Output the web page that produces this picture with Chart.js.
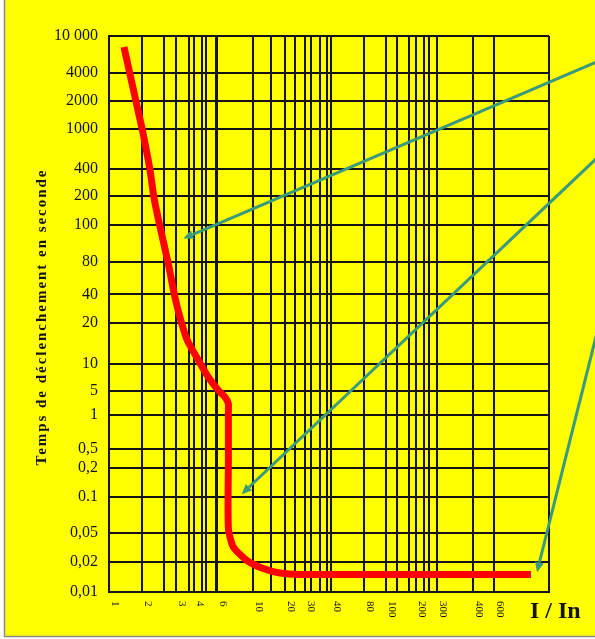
<!DOCTYPE html>
<html>
<head>
<meta charset="utf-8">
<script src="https://cdn.jsdelivr.net/npm/chart.js@4/dist/chart.umd.min.js"></script>
<style>
  html, body { margin: 0; padding: 0; background: #ffffff; }
  canvas { display: block; }
</style>
</head>
<body>
<canvas id="chart" width="595" height="639"></canvas>
<script>
// Tripping curve: current ratio I/In against tripping time (s)
const currentRatio = [1.37, 1.55, 1.81, 2.01, 2.2, 2.3, 2.47, 2.73, 2.95, 3.23, 3.6, 4.34, 5.17, 6.13, 6.74, 7.06, 7.06, 7.06, 7.06, 7.56, 9.12, 12.4, 17.8, 27, 845];
const tripTime = [7600, 3900, 1730, 960, 390, 197, 99, 77, 37.5, 21.2, 14.8, 10.6, 7.13, 5.09, 3.32, 2.12, 1.34, 0.3, 0.0547, 0.0321, 0.0211, 0.0172, 0.0155, 0.015, 0.015];

// Axis graduations
const timeTicks = [0.01, 0.02, 0.05, 0.1, 0.2, 0.5, 1, 5, 10, 20, 40, 80, 100, 200, 400, 1000, 2000, 4000, 10000];
const timeTickLabels = ['0,01', '0,02', '0,05', '0.1', '0,2', '0,5', '1', '5', '10', '20', '40', '80', '100', '200', '400', '1000', '2000', '4000', '10 000'];
const ratioTicks = [1, 2, 3, 4, 6, 10, 20, 30, 40, 80, 100, 200, 300, 400, 600];
const ratioTickLabels = ['1', '2', '3', '4', '6', '10', '20', '30', '40', '80', '100', '200', '300', '400', '600'];
const ratioMinorTicks = [2.6, 3.68, 4.6, 5, 14.6, 24.2, 32, 35.5, 38, 128, 170, 232, 258];
const ratioMax = 1000;

// Callout arrows (tip and tail in axis units)
const arrowTipRatio = [3.37, 8.5, 894];
const arrowTipTime = [92, 0.107, 0.0158];
const arrowTailRatio = [1690, 1690, 1610];
const arrowTailTime = [5720, 614, 21];

// Layout of the graduated paper: relative position of each graduation along its axis
const axisLayout = {
  x: {
    values: ratioTicks.concat([ratioMax]),
    pos: [0, 0.075, 0.153, 0.1925, 0.2448, 0.328, 0.4007, 0.4455, 0.5052, 0.5802, 0.6302, 0.697, 0.7461, 0.828, 0.8757, 1]
  },
  y: {
    values: timeTicks,
    pos: [0, 0.054, 0.1061, 0.1709, 0.223, 0.2567, 0.3191, 0.3615, 0.4108, 0.4845, 0.5354, 0.5935, 0.6608, 0.7117, 0.7603, 0.8335, 0.8826, 0.9342, 1]
  }
};
const gridValues = {
  x: ratioTicks.concat(ratioMinorTicks, [ratioMax]).sort((a, b) => a - b),
  y: timeTicks.slice()
};

// Scale that interpolates logarithmically between irregular graduations
class GraduatedScale extends Chart.Scale {
  determineDataLimits() {
    const v = axisLayout[this.id].values;
    this.min = v[0];
    this.max = v[v.length - 1];
  }
  buildTicks() {
    return gridValues[this.id].map(v => ({ value: v }));
  }
  getLabelForValue(v) { return String(v); }
  _decimal(v) {
    const { values, pos } = axisLayout[this.id];
    const lv = Math.log(v);
    let i = 0;
    while (i < values.length - 2 && lv > Math.log(values[i + 1])) i++;
    const a = Math.log(values[i]), b = Math.log(values[i + 1]);
    return pos[i] + (lv - a) / (b - a) * (pos[i + 1] - pos[i]);
  }
  getPixelForValue(v) { return this.getPixelForDecimal(this._decimal(v)); }
  getValueForPixel(p) {
    const d = this.getDecimalForPixel(p);
    const { values, pos } = axisLayout[this.id];
    let i = 0;
    while (i < pos.length - 2 && d > pos[i + 1]) i++;
    const a = Math.log(values[i]), b = Math.log(values[i + 1]);
    return Math.exp(a + (d - pos[i]) / (pos[i + 1] - pos[i]) * (b - a));
  }
}
GraduatedScale.id = 'graduated';
GraduatedScale.defaults = {};
Chart.register(GraduatedScale);

const INK = '#141414';
const YELLOW = '#ffff00';

const paperPlugin = {
  id: 'paper',
  beforeDraw(chart) {
    const c = chart.ctx;
    c.save();
    c.fillStyle = '#ffffff';
    c.fillRect(0, 0, chart.width, chart.height);
    c.fillStyle = YELLOW;
    c.fillRect(5, 0, chart.width - 5, 636);
    c.strokeStyle = '#8a8a8a';
    c.lineWidth = 1.5;
    c.beginPath();
    c.moveTo(4.5, 0);
    c.lineTo(4.5, 636.5);
    c.lineTo(chart.width, 636.5);
    c.stroke();
    c.restore();
  },
  afterDraw(chart) {
    const c = chart.ctx;
    const xs = chart.scales.x, ys = chart.scales.y;
    c.save();
    c.fillStyle = INK;

    // time graduations
    c.font = '16px "Liberation Serif"';
    c.textAlign = 'right';
    c.textBaseline = 'middle';
    timeTicks.forEach((v, i) => {
      c.fillText(timeTickLabels[i], 98, ys.getPixelForValue(v));
    });

    // current ratio graduations, written top to bottom
    c.font = '11px "Liberation Serif"';
    c.textAlign = 'left';
    c.textBaseline = 'middle';
    ratioTicks.forEach((v, i) => {
      c.save();
      c.translate(xs.getPixelForValue(v) + 6, 601);
      c.rotate(Math.PI / 2);
      c.fillText(ratioTickLabels[i], 0, 0);
      c.restore();
    });

    // axis titles
    c.font = 'bold 24px "Liberation Serif"';
    c.textAlign = 'left';
    c.textBaseline = 'alphabetic';
    c.fillText('I / In', 530, 618);

    const title = 'Temps de déclenchement en seconde';
    c.font = 'bold 15px "Liberation Serif"';
    const natural = c.measureText(title).width;
    const target = 295;
    if ('letterSpacing' in c) {
      c.letterSpacing = ((target - natural) / (title.length - 1)).toFixed(2) + 'px';
    }
    c.save();
    c.translate(46, 317);
    c.rotate(-Math.PI / 2);
    c.textAlign = 'center';
    c.textBaseline = 'alphabetic';
    c.fillText(title, 0, 0);
    c.restore();
    if ('letterSpacing' in c) c.letterSpacing = '0px';

    // callout arrows
    c.strokeStyle = '#3a9a7e';
    c.fillStyle = '#3a9a7e';
    c.lineWidth = 3;
    arrowTipRatio.forEach((_, i) => {
      const tx = xs.getPixelForValue(arrowTipRatio[i]);
      const ty = ys.getPixelForValue(arrowTipTime[i]);
      const sx = xs.getPixelForValue(arrowTailRatio[i]);
      const sy = ys.getPixelForValue(arrowTailTime[i]);
      const ang = Math.atan2(ty - sy, tx - sx);
      const head = 10, half = 4.5;
      const bx = tx - head * Math.cos(ang), by = ty - head * Math.sin(ang);
      c.beginPath();
      c.moveTo(sx, sy);
      c.lineTo(bx, by);
      c.stroke();
      c.beginPath();
      c.moveTo(tx, ty);
      c.lineTo(bx + half * Math.sin(ang), by - half * Math.cos(ang));
      c.lineTo(bx - half * Math.sin(ang), by + half * Math.cos(ang));
      c.closePath();
      c.fill();
    });
    c.restore();
  }
};

const gridStyle = (thickAt) => ({
  color: INK,
  lineWidth: ctx => (ctx.tick && ctx.tick.value === thickAt ? 3 : 2),
  drawTicks: false
});

new Chart(document.getElementById('chart'), {
  type: 'line',
  data: {
    datasets: [{
      data: currentRatio.map((x, i) => ({ x, y: tripTime[i] })),
      borderColor: '#ff0000',
      borderWidth: 7,
      pointRadius: 0,
      tension: 0.2,
      fill: false
    }]
  },
  options: {
    responsive: false,
    animation: false,
    events: [],
    layout: { padding: { left: 109, top: 36, right: 46, bottom: 47 } },
    scales: {
      x: {
        type: 'graduated',
        position: 'bottom',
        grid: gridStyle(6),
        border: { display: true, color: INK, width: 2 },
        ticks: { display: false }
      },
      y: {
        type: 'graduated',
        position: 'left',
        grid: gridStyle(null),
        border: { display: true, color: INK, width: 2 },
        ticks: { display: false }
      }
    },
    plugins: {
      legend: { display: false },
      tooltip: { enabled: false }
    }
  },
  plugins: [paperPlugin]
});
</script>
</body>
</html>
